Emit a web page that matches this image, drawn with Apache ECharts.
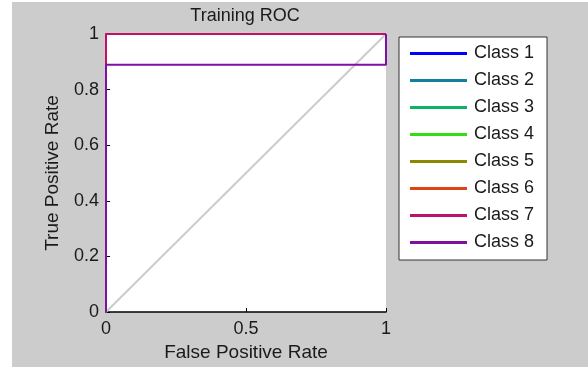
<!DOCTYPE html>
<html>
<head>
<meta charset="utf-8">
<script src="https://cdn.jsdelivr.net/npm/echarts@6/dist/echarts.min.js"></script>
<style>
html,body{margin:0;padding:0;background:#fff;}
#chart{width:588px;height:367px;}
</style>
</head>
<body>
<div id="chart"></div>
<script>
// ---- data ----
const classNames = ['Class 1','Class 2','Class 3','Class 4','Class 5','Class 6','Class 7','Class 8'];
const classColors = ['#0000ff','#127f9c','#10b066','#33dd11','#8a8a00','#dd4411','#c0106a','#8010a0'];
const class1 = [[0,0],[0,1],[1,1]];
const class2 = [[0,0],[0,1],[1,1]];
const class3 = [[0,0],[0,1],[1,1]];
const class4 = [[0,0],[0,1],[1,1]];
const class5 = [[0,0],[0,1],[1,1]];
const class6 = [[0,0],[0,1],[1,1]];
const class7 = [[0,0],[0,1],[1,1]];
const class8 = [[0,0],[0,0.889],[1,0.889],[1,1]];
const diagonal = [[0,0],[1,1]];
const xTicks = [0, 0.5, 1];
const yTicks = [0, 0.2, 0.4, 0.6, 0.8, 1];
const classData = [class1,class2,class3,class4,class5,class6,class7,class8];

const FONT = 'Liberation Sans, Arial, sans-serif';
const chart = echarts.init(document.getElementById('chart'), null, {renderer:'canvas'});
const series = [{
  name: 'diag', type: 'line', data: diagonal, symbol: 'none', silent: true,
  lineStyle: {color: '#cccccc', width: 2}, clip: false, z: 1
}];
classData.forEach((d, i) => {
  series.push({
    name: classNames[i], type: 'line', data: d, symbol: 'none', clip: false,
    color: classColors[i], lineStyle: {color: classColors[i], width: 2}, z: 2 + i
  });
});
chart.setOption({
  animation: false,
  backgroundColor: '#ffffff',
  graphic: [{type: 'rect', shape: {x: 12, y: 2, width: 576, height: 365}, style: {fill: '#cccccc'}, z: -10, silent: true}],
  title: {
    text: 'Training ROC', left: 240, top: 2, textAlign: 'center',
    textStyle: {fontFamily: FONT, fontSize: 18, fontWeight: 'normal', color: '#1a1a1a'}
  },
  grid: {left: 106, top: 34, right: 202, bottom: 55, show: true, backgroundColor: '#ffffff', borderWidth: 0},
  legend: {
    data: classNames, orient: 'vertical', left: 399, top: 37,
    icon: 'rect', itemWidth: 57, itemHeight: 3, itemGap: 0,
    padding: [3, 13, 4, 11], backgroundColor: '#ffffff', borderColor: '#333333', borderWidth: 1,
    textStyle: {fontFamily: FONT, fontSize: 18, lineHeight: 27, color: '#1a1a1a', padding: [0,0,0,2]},
    selectedMode: false
  },
  xAxis: {
    type: 'value', min: 0, max: 1, interval: 0.5,
    name: 'False Positive Rate', nameLocation: 'middle', nameGap: 31,
    nameTextStyle: {fontFamily: FONT, fontSize: 19, color: '#1a1a1a'},
    axisLine: {show: true, lineStyle: {color: '#000', width: 1.5}},
    axisTick: {show: true, inside: true, length: 4, lineStyle: {color: '#000'}},
    axisLabel: {fontFamily: FONT, fontSize: 18, color: '#1a1a1a', margin: 8,
      formatter: v => xTicks.includes(v) ? String(v) : ''},
    splitLine: {show: false}
  },
  yAxis: {
    type: 'value', min: 0, max: 1, interval: 0.2,
    name: 'True Positive Rate', nameLocation: 'middle', nameGap: 44,
    nameTextStyle: {fontFamily: FONT, fontSize: 19, color: '#1a1a1a'},
    axisLine: {show: true, lineStyle: {color: '#000', width: 1.5}},
    axisTick: {show: true, inside: true, length: 4, lineStyle: {color: '#000'}},
    axisLabel: {fontFamily: FONT, fontSize: 18, color: '#1a1a1a', margin: 7,
      formatter: v => { const t = yTicks.find(y => Math.abs(y - v) < 1e-9); return t === undefined ? '' : String(t); }},
    splitLine: {show: false}
  },
  series: series
});
</script>
</body>
</html>
